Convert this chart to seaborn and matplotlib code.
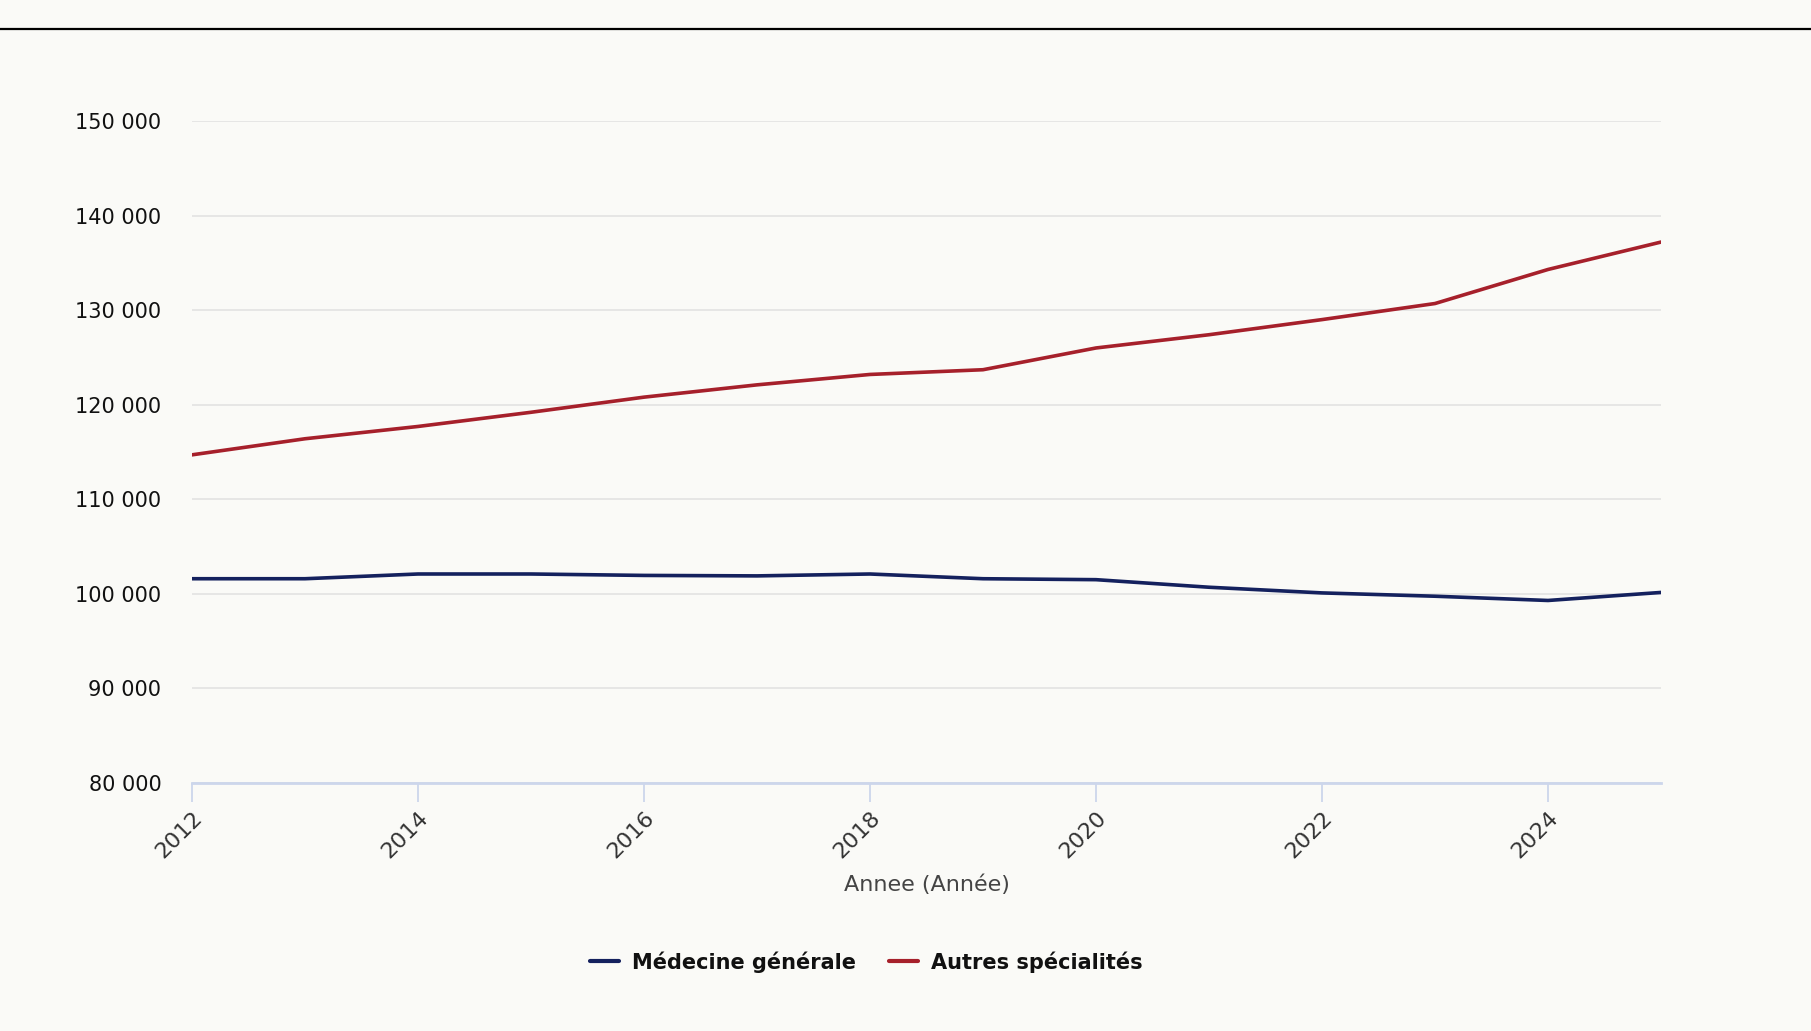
import matplotlib
matplotlib.use("Agg")
import matplotlib.pyplot as plt
import matplotlib.ticker as mticker
import pandas as pd
import seaborn as sns

# Data
years = [2012, 2013, 2014, 2015, 2016, 2017, 2018, 2019, 2020, 2021, 2022, 2023, 2024, 2025]
medecine_generale = [101600, 101600, 102100, 102100, 101950, 101900, 102100, 101600,
                     101500, 100700, 100100, 99750, 99300, 100150]
autres_specialites = [114700, 116400, 117700, 119200, 120800, 122100, 123200, 123700,
                      126000, 127400, 129000, 130700, 134300, 137200]
series_names = ["Médecine générale", "Autres spécialités"]
series_colors = ["#14215e", "#a6202b"]
y_ticks = [80000, 90000, 100000, 110000, 120000, 130000, 140000, 150000]
x_ticks = [2012, 2014, 2016, 2018, 2020, 2022, 2024]

df = pd.DataFrame({
    "Annee": years * 2,
    "value": medecine_generale + autres_specialites,
    "serie": [series_names[0]] * len(years) + [series_names[1]] * len(years),
})

BG = "#fafaf7"
sns.set_theme(style="white")
plt.rcParams["font.family"] = ["DejaVu Sans"]

fig = plt.figure(figsize=(18.11, 10.31), dpi=100, facecolor=BG)
ax = fig.add_axes([192 / 1811, 1 - 783 / 1031, (1661 - 192) / 1811, (783 - 121) / 1031])
ax.set_facecolor(BG)

sns.lineplot(data=df, x="Annee", y="value", hue="serie", palette=series_colors,
             linewidth=2.6, ax=ax, legend=False)

ax.set_xlim(2012, 2025)
ax.set_ylim(80000, 150000)
ax.set_yticks(y_ticks)
ax.yaxis.set_major_formatter(mticker.FuncFormatter(lambda v, p: f"{int(v):,}".replace(",", " ")))
ax.set_xticks(x_ticks)
ax.set_xticklabels([str(x) for x in x_ticks], rotation=45, ha="right", rotation_mode="anchor")

ax.grid(axis="y", color="#e2e2e2", linewidth=1.2)
ax.grid(axis="x", visible=False)
for side in ["top", "right", "left"]:
    ax.spines[side].set_visible(False)
ax.spines["bottom"].set_color("#ccd6eb")
ax.spines["bottom"].set_linewidth(2)

ax.tick_params(axis="y", left=False, length=0, pad=22, labelsize=15, labelcolor="#111111")
ax.tick_params(axis="x", bottom=True, direction="out", length=14, width=1.3, color="#ccd6eb",
               pad=4, labelsize=16, labelcolor="#333333")
ax.set_xlabel("Annee (Année)", fontsize=16, color="#444444", labelpad=9)
ax.set_ylabel("")

handles = [plt.Line2D([], [], color=c, linewidth=3) for c in series_colors]
fig.legend(handles, series_names, loc="center", bbox_to_anchor=(866 / 1811, 1 - 962 / 1031),
           ncol=2, frameon=False, handlelength=1.4, columnspacing=1.6, handletextpad=0.6,
           labelcolor="#111111", prop={"weight": "bold", "size": 15})

# thin black rule across the top of the frame
fig.add_artist(plt.Line2D([0, 1], [1 - 29 / 1031, 1 - 29 / 1031], color="black", linewidth=1.6))

fig.savefig("out.png", dpi=100, facecolor=BG)
